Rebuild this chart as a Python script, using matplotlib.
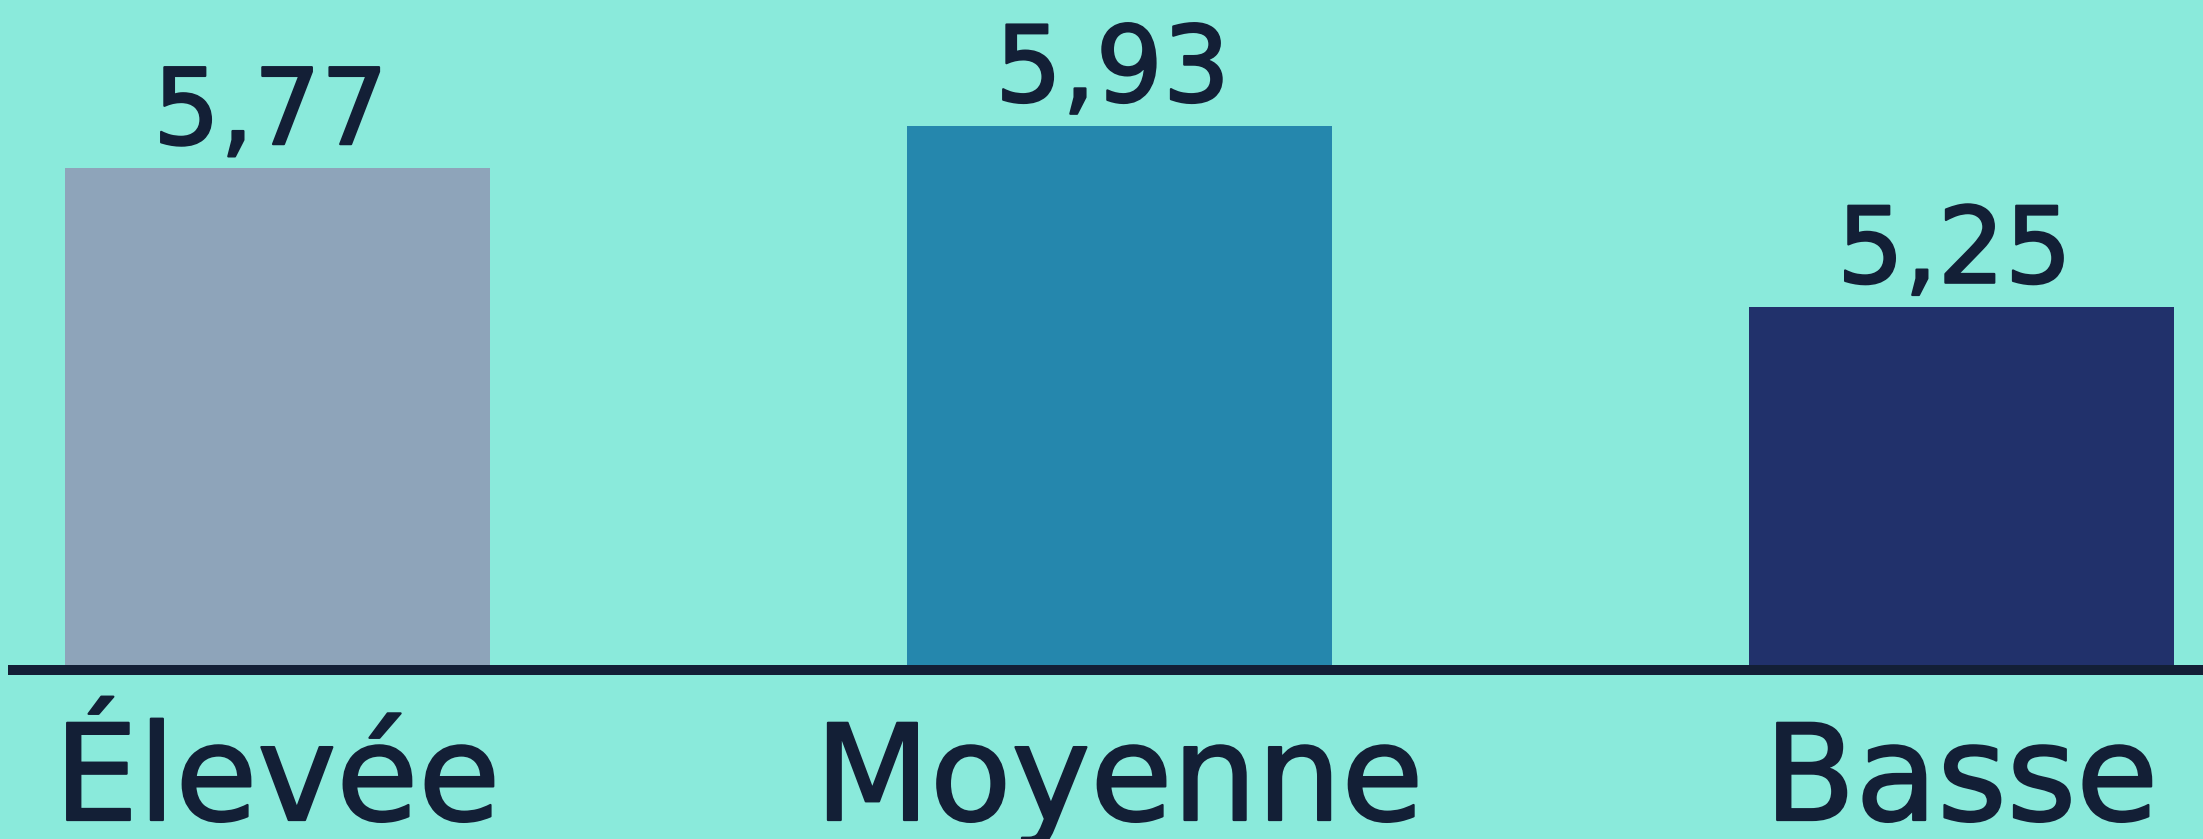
import matplotlib
matplotlib.use("agg")
import matplotlib.pyplot as plt
import matplotlib.patheffects as pe

categories = ["Élevée", "Moyenne", "Basse"]
values = [5.77, 5.93, 5.25]
value_labels = ["5,77", "5,93", "5,25"]
colors = ["#8ea4ba", "#2587ad", "#21316b"]

bg = "#8aeadb"
ink = "#131f36"

fig = plt.figure(figsize=(22.03, 8.39), dpi=100, facecolor=bg)
# axes spans from x=13px to the right edge, and from the top down to the baseline (670px)
ax = fig.add_axes([13 / 2203, (839 - 670) / 839, 1 - 13 / 2203, 670 / 839])
ax.set_facecolor(bg)

x = range(len(categories))
ax.bar(x, values, width=0.505, color=colors, zorder=1)

ax.set_xlim(-0.314, 2.287)
ax.set_ylim(3.888, 6.402)

for s in ["top", "left", "right"]:
    ax.spines[s].set_visible(False)
ax.spines["bottom"].set_color(ink)
ax.spines["bottom"].set_linewidth(7.2)
ax.spines["bottom"].set_zorder(3)
ax.set_yticks([])
ax.set_xticks([])

# thicken glyphs a little, with round joins, like the rounded font of the original
bold = [pe.withStroke(linewidth=1.6, foreground=ink, joinstyle="round")]

for i, v in enumerate(values):
    ax.annotate(value_labels[i], xy=(i, v), xytext=(-5, 17.5),
                textcoords="offset points", ha="center", va="baseline",
                fontsize=76, color=ink, family="DejaVu Sans", path_effects=bold)

for i, c in enumerate(categories):
    ax.text(i, -0.2239, c, transform=ax.get_xaxis_transform(),
            ha="center", va="baseline", fontsize=96, color=ink,
            family="DejaVu Sans", path_effects=bold)

fig.savefig("out.png", dpi=100, facecolor=bg)
